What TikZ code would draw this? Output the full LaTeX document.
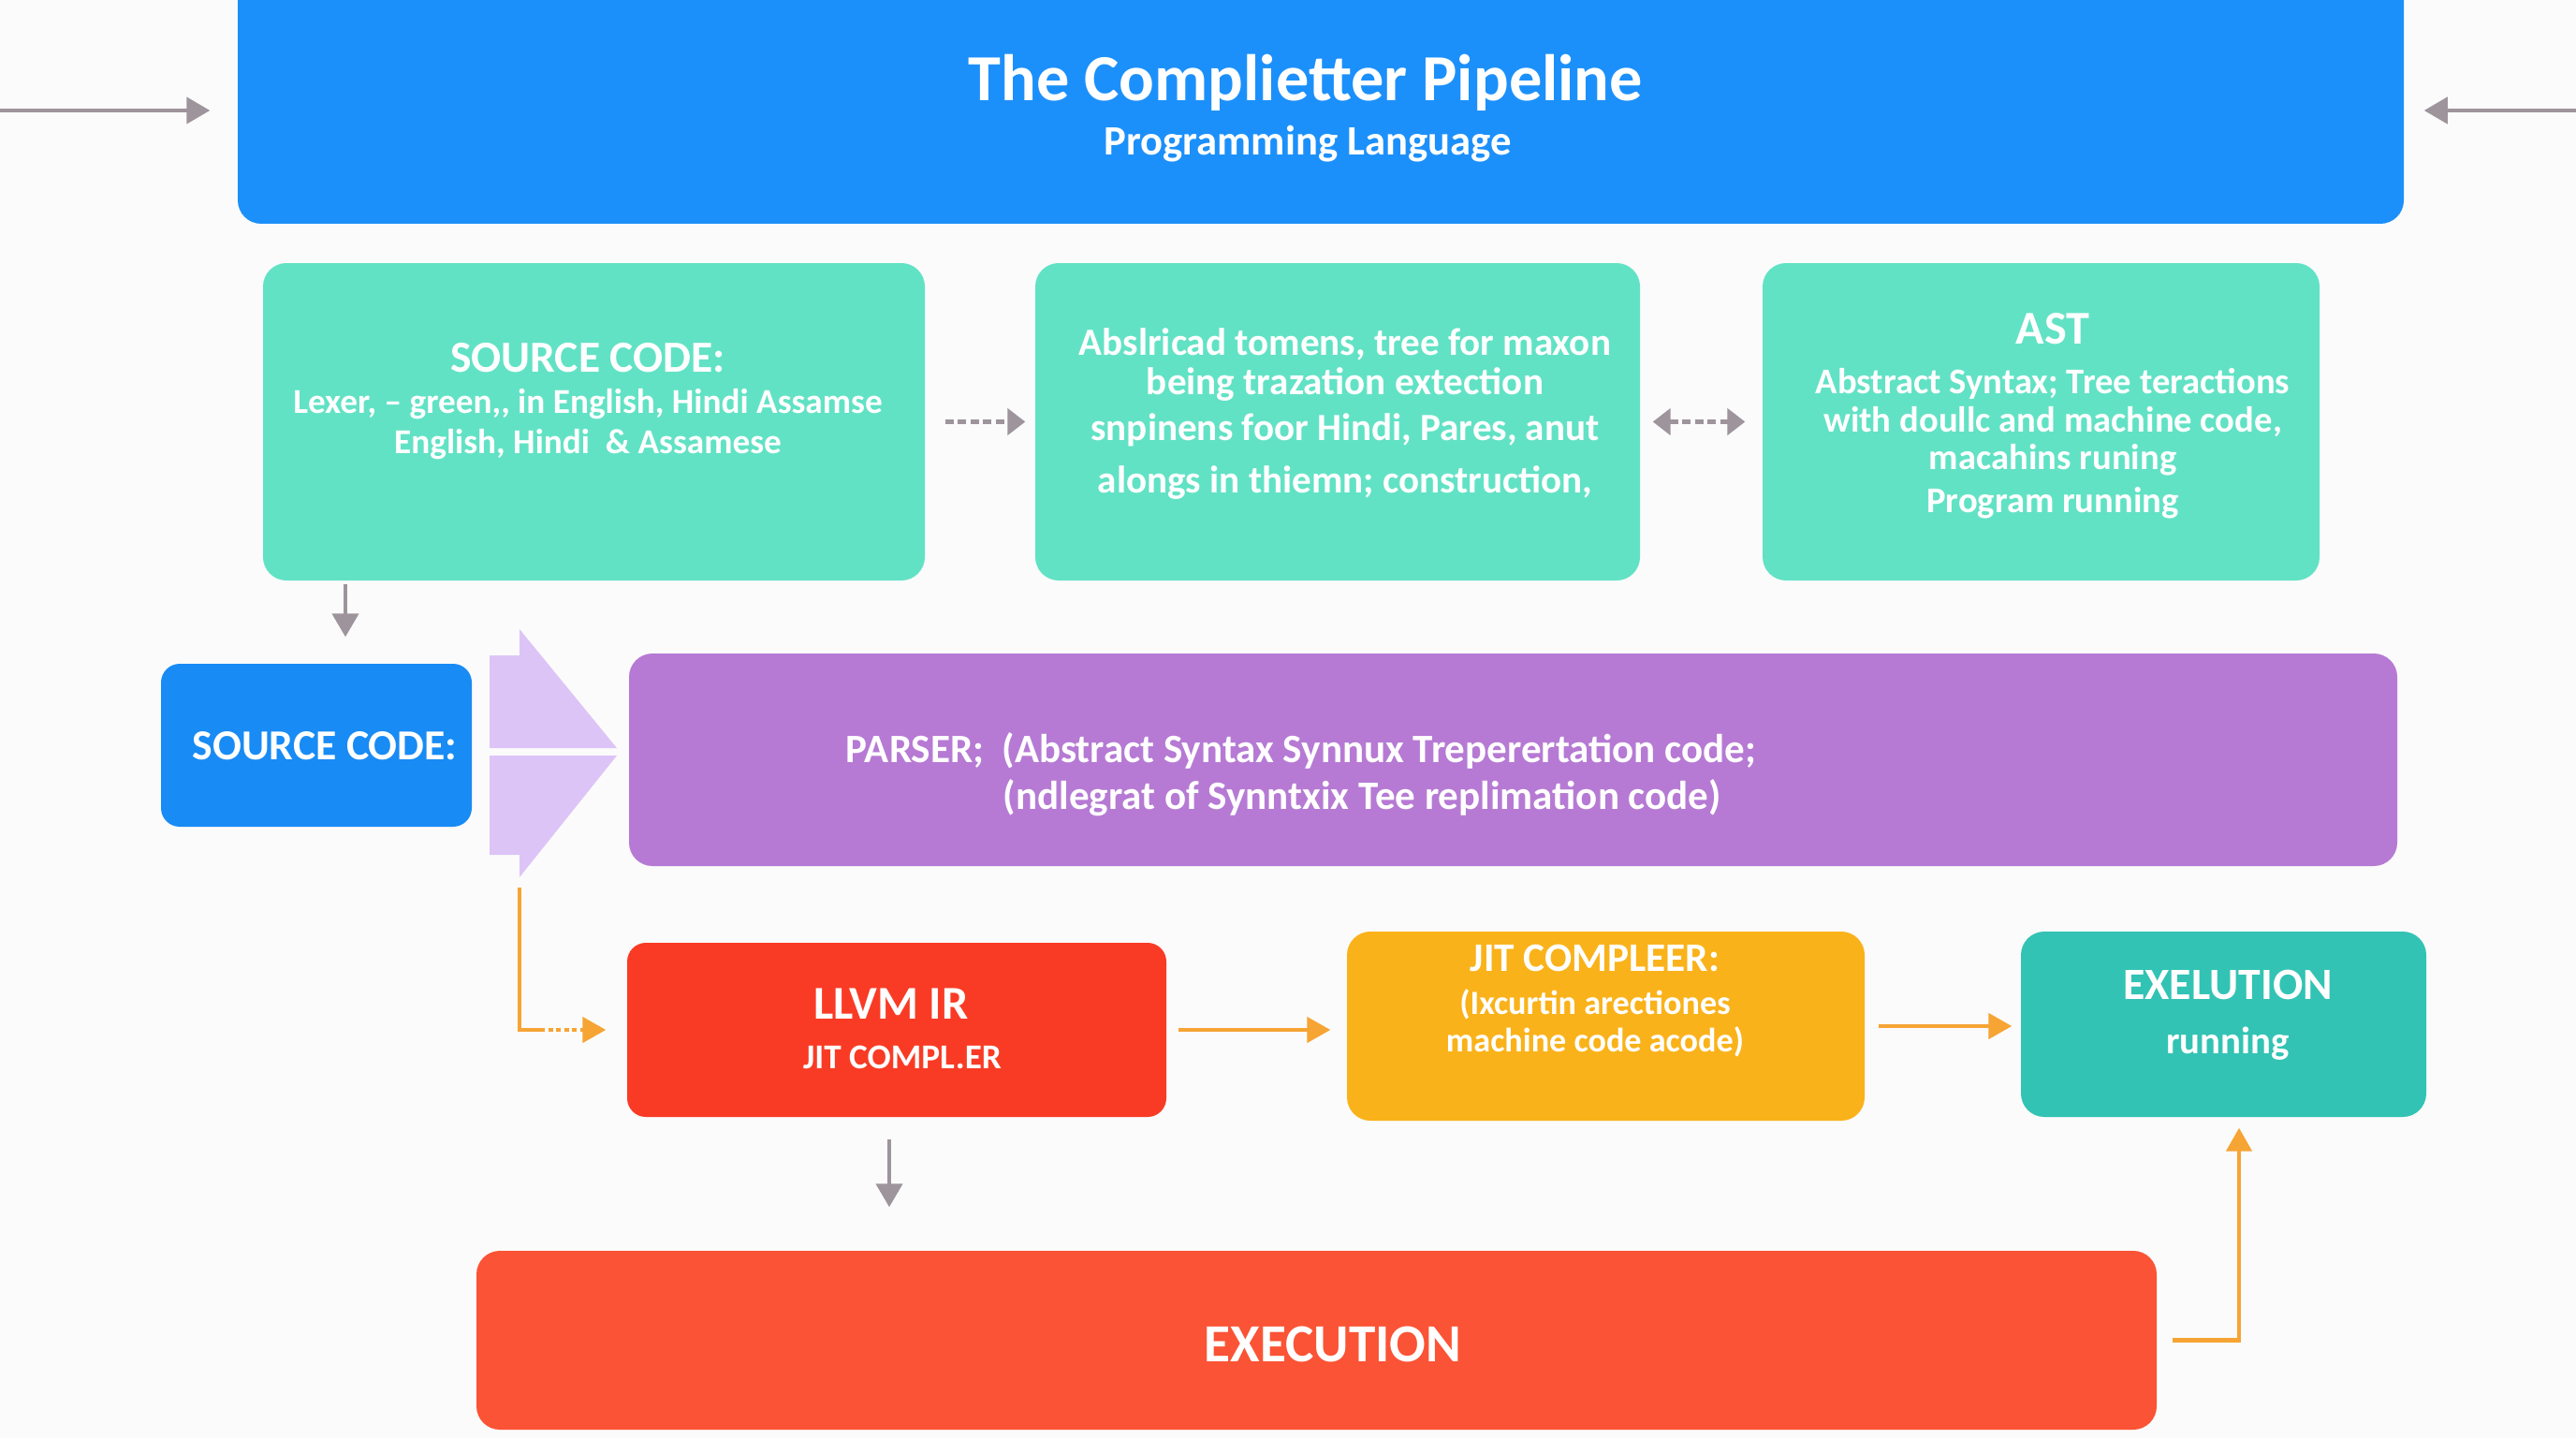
\documentclass[tikz,border=0pt]{standalone}
\usepackage{fontspec}
\setmainfont{Carlito}
\usetikzlibrary{arrows.meta}

\definecolor{pagebg}{RGB}{251,251,251}
\definecolor{bannerblue}{RGB}{28,144,250}
\definecolor{mint}{RGB}{98,226,197}
\definecolor{srcblue}{RGB}{24,139,245}
\definecolor{chevron}{RGB}{221,196,247}
\definecolor{parserpurple}{RGB}{182,122,212}
\definecolor{llvmred}{RGB}{249,59,37}
\definecolor{jitamber}{RGB}{250,178,26}
\definecolor{runteal}{RGB}{50,195,180}
\definecolor{execred}{RGB}{251,83,53}
\definecolor{arrowgrey}{RGB}{158,148,156}
\definecolor{arroworange}{RGB}{246,164,52}

\begin{document}
\begin{tikzpicture}[every node/.style={text=white, align=center, inner sep=0pt},
	panel/.style={rounded corners=2.5mm},
	greyline/.style={draw=arrowgrey, line width=1.2pt, -{Triangle[length=2.5mm, width=2.8mm]}},
	dotline/.style={draw=arrowgrey, line width=1.6pt, dash pattern=on 0.9mm off 0.45mm, -{Triangle[length=1.9mm, width=2.8mm]}},
	orangeline/.style={draw=arroworange, line width=1.3pt, -{Triangle[length=2.5mm, width=2.7mm]}}]
	\useasboundingbox (0,0) rectangle (27.52,-15.36);
	\clip (0,0) rectangle (27.52,-15.36);
	\fill[pagebg] (0,0) rectangle (27.52,-15.36);

	% header banner
	\node[panel, fill=bannerblue, minimum width=23.14cm, minimum height=2.79cm] (banner) at (14.11,-0.995) {};
	\node[font=\fontsize{20}{24}\selectfont\bfseries] (title) at (13.95,-0.88) {The Complietter Pipeline};
	\node[font=\fontsize{12.7}{15}\selectfont\bfseries] (subtitle) at (13.97,-1.54) {Programming Language};

	% front end boxes
	\node[panel, fill=mint, minimum width=7.07cm, minimum height=3.39cm] (lexer) at (6.345,-4.505) {};
	\node[panel, fill=mint, minimum width=6.46cm, minimum height=3.39cm] (tokens) at (14.29,-4.505) {};
	\node[panel, fill=mint, minimum width=5.95cm, minimum height=3.39cm] (ast) at (21.805,-4.505) {};
	\node[font=\fontsize{10.6}{12.4}\selectfont\bfseries] (lexer-txt) at (6.28,-4.29)
		{{\fontsize{13.5}{16}\selectfont SOURCE CODE:}\\ Lexer, – green,{},{} in English, Hindi Assamse\\ English, Hindi~~\& Assamese};
	\node[font=\fontsize{11.7}{12}\selectfont\bfseries] (tokens-txt) at (14.37,-4.42)
		{Abslricad tomens, tree for maxon\\ being trazation extection\\[2pt] snpinens foor Hindi, Pares, anut\\[4pt] alongs in thiemn; construction,};
	\node[font=\fontsize{11}{11.5}\selectfont\bfseries] (ast-txt) at (21.93,-4.44)
		{{\fontsize{14.3}{16}\selectfont AST}\\[3.8pt] Abstract Syntax; Tree teractions\\ with doullc and machine code,\\ macahins runing\\[1.5pt] Program running};

	% parser row
	\node[panel, rounded corners=2mm, fill=srcblue, minimum width=3.32cm, minimum height=1.74cm] (source) at (3.38,-7.96) {};
	\node[font=\fontsize{13}{15}\selectfont\bfseries] (source-txt) at (3.47,-7.97) {SOURCE CODE:};
	\fill[chevron] (5.23,-7.00) -- (5.55,-7.00) -- (5.55,-6.72) -- (6.59,-7.99) -- (5.23,-7.99) -- cycle;
	\fill[chevron] (5.23,-8.07) -- (6.59,-8.07) -- (5.55,-9.37) -- (5.55,-9.13) -- (5.23,-9.13) -- cycle;
	\node[panel, fill=parserpurple, minimum width=18.89cm, minimum height=2.27cm] (parser) at (16.165,-8.115) {};
	\node[font=\fontsize{12.25}{14.2}\selectfont\bfseries, align=left] (parser-txt) at (13.90,-8.27)
		{PARSER;~~(Abstract Syntax Synnux Treperertation code;\\ \hspace*{1.68cm}(ndlegrat of Synntxix Tee replimation code)};

	% back end row
	\node[panel, rounded corners=2mm, fill=llvmred, minimum width=5.76cm, minimum height=1.86cm] (llvm) at (9.58,-11.00) {};
	\node[font=\fontsize{10.6}{15}\selectfont\bfseries] (llvm-txt) at (9.58,-10.985)
		{{\fontsize{14.3}{16}\selectfont LLVM IR\hspace*{0.12cm}}\\ \hspace*{0.12cm}JIT COMPL.ER};
	\node[panel, fill=jitamber, minimum width=5.53cm, minimum height=2.02cm] (jit) at (17.155,-10.96) {};
	\node[font=\fontsize{10.3}{11.4}\selectfont\bfseries] (jit-txt) at (17.04,-10.69)
		{{\fontsize{12.3}{14}\selectfont JIT COMPLEER:}\\[1.6pt] (Ixcurtin arectiones\\ machine code acode)};
	\node[panel, fill=runteal, minimum width=4.33cm, minimum height=1.98cm] (exelution) at (23.755,-10.94) {};
	\node[font=\fontsize{11.6}{16.5}\selectfont\bfseries] (exelution-txt) at (23.80,-10.84)
		{{\fontsize{13.6}{16}\selectfont EXELUTION}\\ running};
	\node[panel, fill=execred, minimum width=17.95cm, minimum height=1.91cm] (execution) at (14.065,-14.315) {};
	\node[font=\fontsize{16.3}{19}\selectfont\bfseries] (execution-txt) at (14.24,-14.36) {EXECUTION};

	% connectors
	\coordinate (feedL) at (0,-1.18);
	\coordinate (feedR) at (27.52,-1.18);
	\draw[greyline, shorten >=0.29cm] (feedL) -- (feedL -| banner.west);
	\draw[greyline, shorten >=0.21cm] (feedR) -- (feedR -| banner.east);
	\draw[dotline, shorten <=0.21cm, shorten >=0.10cm] (lexer.east) -- (tokens.west);
	\draw[dotline, {Triangle[length=1.9mm, width=2.8mm]}-{Triangle[length=1.9mm, width=2.8mm]}, shorten <=0.13cm, shorten >=0.18cm] (tokens.east) -- (ast.west);
	\draw[greyline, shorten <=0.03cm, shorten >=0.28cm] ([xshift=0.31cm]source.north |- lexer.south) -- ([xshift=0.31cm]source.north);
	\coordinate (split) at (5.55,-9.48);
	\draw[draw=arroworange, line width=1.3pt] (split) -- (split |- llvm.west) coordinate (elbow) -- ++(0.22,0);
	\draw[orangeline, dash pattern=on 0.5mm off 0.35mm, shorten <=0.22cm, shorten >=0.22cm] (elbow) -- (llvm.west);
	\draw[orangeline, shorten <=0.12cm, shorten >=0.17cm] (llvm.east) -- (llvm.east -| jit.west);
	\draw[orangeline, shorten <=0.14cm, shorten >=0.09cm] (jit.east) -- (jit.east -| exelution.west);
	\draw[greyline, shorten <=0.23cm, shorten >=0.46cm] ([xshift=-0.08cm]llvm.south) -- ([xshift=-0.08cm]llvm.south |- execution.north);
	\draw[orangeline, shorten <=0.16cm, shorten >=0.11cm] (execution.east) -| ([xshift=0.165cm]exelution.south);
\end{tikzpicture}
\end{document}
